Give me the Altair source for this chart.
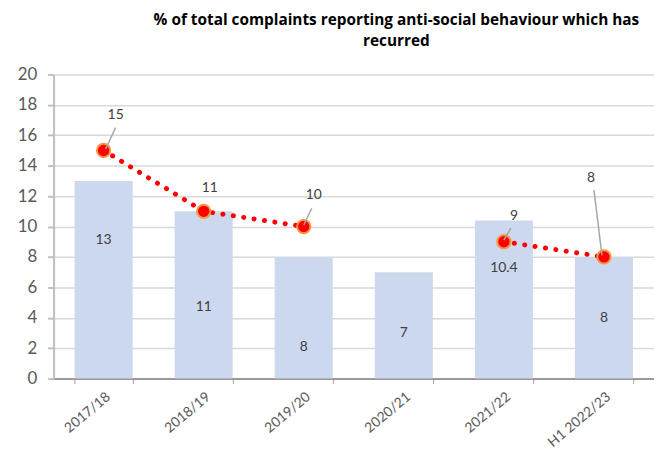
import altair as alt
import pandas as pd

years = ["2017/18", "2018/19", "2019/20", "2020/21", "2021/22", "H1 2022/23"]
bar_values = [13, 11, 8, 7, 10.4, 8]
bar_label_at = [9.1, 4.7, 2.1, 3.0, 7.3, 4.0]

line_years = ["2017/18", "2018/19", "2019/20", "2021/22", "H1 2022/23"]
line_values = [15, 11, 10, 9, 8]
line_segment = ["a", "a", "a", "b", "b"]

# label anchors (category index units / value units)
line_label_x = [0.12, 1.06, 2.10, 4.10, 4.87]
line_label_y = [17.3, 12.5, 12.1, 10.7, 13.2]
leader_x1 = [0.02, 1.0, 2.0, 4.0, 4.98]
leader_y1 = [15.1, 11.0, 10.1, 9.1, 8.1]
leader_x2 = [0.12, 1.0, 2.08, 4.07, 4.90]
leader_y2 = [16.5, 11.0, 11.2, 9.9, 12.4]

bars_df = pd.DataFrame({"year": years, "value": bar_values, "lab": bar_label_at})
line_df = pd.DataFrame({"year": line_years, "value": line_values, "seg": line_segment})
lab_df = pd.DataFrame({
    "value": line_values, "lx": line_label_x, "ly": line_label_y,
    "x1": leader_x1, "y1": leader_y1, "x2": leader_x2, "y2": leader_y2,
})

FONT = "Lato"
GREY = "#595959"

xband = alt.X(
    "year:N", sort=years, title=None,
    scale=alt.Scale(paddingInner=0.42, paddingOuter=0.21),
    axis=alt.Axis(labelAngle=320, labelAlign="right", labelBaseline="top",
                  labelFont=FONT, labelFontSize=14, labelColor=GREY,
                  labelPadding=6, tickBand="extent", tickSize=5,
                  tickColor="#a6a6a6", domainColor="#808080", domainWidth=1.5,
                  grid=False, labelOverlap=False),
)
yscale = alt.Scale(domain=[0, 20], nice=False)
yaxis = alt.Axis(values=list(range(0, 21, 2)), labelFont=FONT, labelFontSize=17,
                 labelColor=GREY, labelPadding=11, tickSize=6, tickColor="#bfbfbf",
                 tickWidth=2, domainColor="#bfbfbf", domainWidth=2,
                 gridColor="#d9d9d9", gridWidth=1.5, title=None,
                 labelOverlap=False, labelFlush=False)


def Y(field):
    return alt.Y(field, scale=yscale, axis=yaxis)


bars = alt.Chart(bars_df).mark_bar(color="#cbd8ee").encode(x=xband, y=Y("value:Q"))
bar_text = alt.Chart(bars_df).mark_text(font=FONT, fontSize=14, color="#404040").encode(
    x=xband, y=Y("lab:Q"), text=alt.Text("value:Q")
)
line = alt.Chart(line_df).mark_line(
    color="#ff0000", strokeWidth=5, strokeCap="round", strokeDash=[0.1, 10.5]
).encode(x=xband, y=Y("value:Q"), detail="seg:N")
pts = alt.Chart(line_df).mark_point(
    filled=True, fill="#ff0000", stroke="#f79646", strokeWidth=2, size=180, opacity=1
).encode(x=xband, y=Y("value:Q"))

xq = alt.Scale(domain=[-0.5, 5.5], nice=False, zero=False)
leaders = alt.Chart(lab_df).mark_rule(color="#a6a6a6", strokeWidth=1.5).encode(
    x=alt.X("x1:Q", scale=xq, axis=None), x2="x2:Q",
    y=Y("y1:Q"), y2="y2:Q",
)
line_text = alt.Chart(lab_df).mark_text(font=FONT, fontSize=14, color="#404040").encode(
    x=alt.X("lx:Q", scale=xq, axis=None), y=Y("ly:Q"), text="value:Q"
)

main = alt.layer(bars, bar_text, line, pts)
over = alt.layer(leaders, line_text)

chart = alt.layer(main, over).resolve_scale(x="independent").properties(
    width=606, height=307,
    autosize=alt.AutoSizeParams(type="none"),
    padding={"left": 46, "top": 65, "right": 0, "bottom": 69},
    title=alt.TitleParams(
        text=["% of total complaints reporting anti-social behaviour which has", "recurred"],
        font="Open Sans", fontSize=15.5, fontWeight="bold", color="#000000",
        anchor="middle", dx=43, offset=16, lineHeight=21,
    ),
).configure_view(stroke=None)

chart.save("out.html", embed_options={"renderer": "svg", "actions": False})
